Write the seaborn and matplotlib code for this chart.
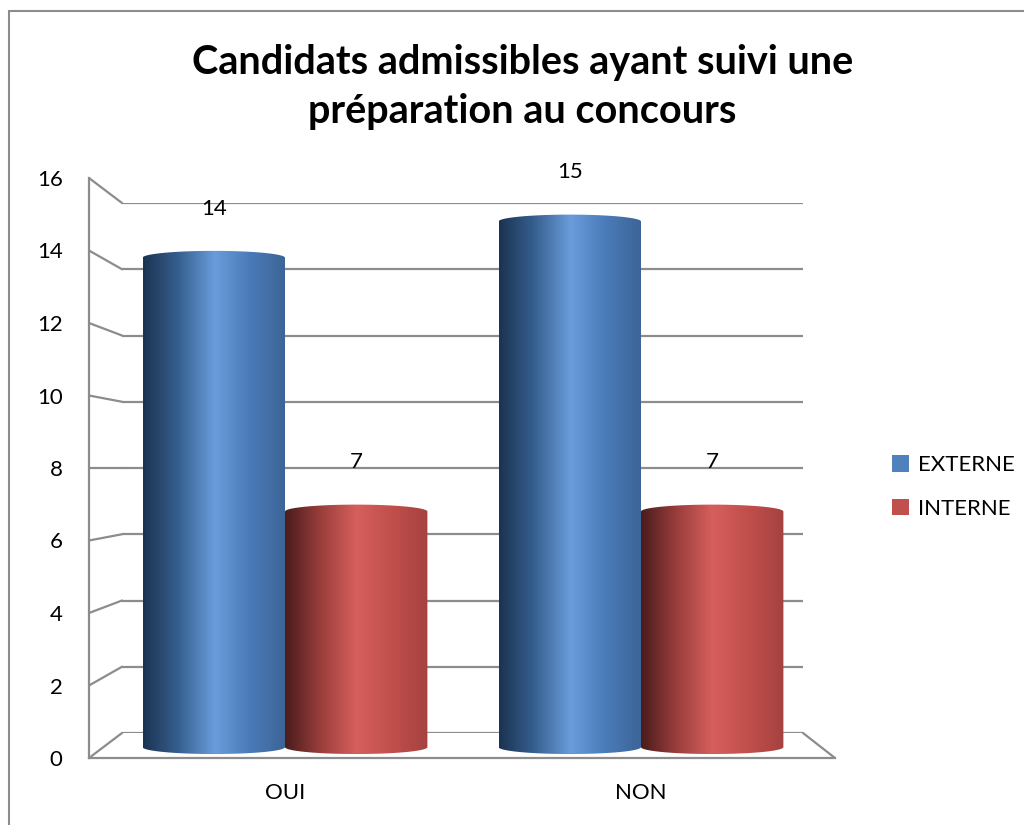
import matplotlib
matplotlib.use("Agg")

import matplotlib.pyplot as plt
import numpy as np
import pandas as pd
import seaborn as sns
from matplotlib.colors import LinearSegmentedColormap
from matplotlib.lines import Line2D
from matplotlib.patches import Patch, PathPatch
from matplotlib.path import Path


CATEGORIES = ["OUI", "NON"]
SERIES = ["EXTERNE", "INTERNE"]
EXTERNE = [14, 15]
INTERNE = [7, 7]
Y_TICKS = [0, 2, 4, 6, 8, 10, 12, 14, 16]
TITLE = "Candidats admissibles ayant suivi une\npréparation au concours"

BLUE = "#4f81bd"
RED = "#c0504d"
GREY = "#8c8c8c"
GRADIENTS = {
    BLUE: ["#1c3352", "#36608f", "#6a9cdb", "#4a7bb8", "#3c6496"],
    RED: ["#4a1c1c", "#9a3e3c", "#d65f5c", "#c04f4c", "#a54240"],
}


def build_frame() -> pd.DataFrame:
    rows = []
    for name, values in zip(SERIES, [EXTERNE, INTERNE]):
        for category, value in zip(CATEGORIES, values):
            rows.append({"reponse": category, "type": name, "candidats": value})
    return pd.DataFrame(rows)


def cylinder_path(x0: float, width: float, bottom: float, top: float, sag: float) -> Path:
    # silhouette of a cylinder: arc on top, arc below
    theta = np.linspace(np.pi, 0, 40)
    cx = x0 + width / 2
    top_x = cx + np.cos(theta) * width / 2
    top_y = top + np.sin(theta) * sag
    bot_x = cx + np.cos(theta[::-1]) * width / 2
    bot_y = bottom - np.sin(theta[::-1]) * sag
    verts = np.column_stack([np.concatenate([top_x, bot_x]), np.concatenate([top_y, bot_y])])
    verts = np.vstack([verts, verts[:1]])
    codes = [Path.MOVETO] + [Path.LINETO] * (len(verts) - 2) + [Path.CLOSEPOLY]
    return Path(verts, codes)


def main() -> None:
    sns.set_theme(style="white")
    plt.rcParams["font.family"] = ["Lato", "DejaVu Sans"]
    plt.rcParams["text.color"] = "black"

    fig = plt.figure(figsize=(10.24, 8.25), dpi=100)
    ax_back = fig.add_axes([122 / 1024, 92 / 825, 681 / 1024, 530 / 825])
    ax = fig.add_axes([89 / 1024, 67 / 825, 746 / 1024, 580 / 825])
    ax.set_facecolor("none")

    # back wall
    ax_back.set_ylim(0, 16)
    ax_back.set_yticks(Y_TICKS)
    ax_back.yaxis.grid(True, color=GREY, linewidth=1.6)
    ax_back.tick_params(length=0, labelleft=False, labelbottom=False)
    ax_back.set_xticks([])
    for spine in ax_back.spines.values():
        spine.set_visible(False)

    df = build_frame()
    sns.barplot(
        data=df, x="reponse", y="candidats", hue="type", hue_order=SERIES,
        palette=[BLUE, RED], width=0.8, saturation=1, legend=False, ax=ax,
    )

    x_lim = (-0.5506, 1.545)
    sag = 0.19
    for container, color in zip(ax.containers, [BLUE, RED]):
        cmap = LinearSegmentedColormap.from_list("cyl", GRADIENTS[color])
        grad = np.linspace(0, 1, 256).reshape(1, -1)
        for bar in container:
            x0, w, h = bar.get_x(), bar.get_width(), bar.get_height()
            bar.set_alpha(0)
            path = cylinder_path(x0, w, 0.3, h - 0.2, sag)
            clip = PathPatch(path, transform=ax.transData, facecolor="none", edgecolor="none")
            ax.add_patch(clip)
            im = ax.imshow(grad, extent=[x0, x0 + w, 0, h + 0.2], aspect="auto",
                           cmap=cmap, zorder=3, interpolation="bilinear")
            im.set_clip_path(clip)
        ax.bar_label(container, padding=23, fontsize=16, color="black")

    ax.set_xlim(*x_lim)
    ax.set_ylim(0, 16)
    ax.set_yticks(Y_TICKS)
    ax.set_xlabel("")
    ax.set_ylabel("")
    ax.tick_params(axis="y", length=0, pad=19, labelsize=16, labelcolor="black")
    ax.tick_params(axis="x", length=0, pad=18, labelsize=16, labelcolor="black")
    for side in ["top", "right"]:
        ax.spines[side].set_visible(False)
    for side in ["left", "bottom"]:
        ax.spines[side].set_color(GREY)
        ax.spines[side].set_linewidth(1.6)

    # perspective connectors between front axis and back wall
    fig.canvas.draw()
    to_fig = fig.transFigure.inverted()
    for v in Y_TICKS:
        front = to_fig.transform(ax.transData.transform((x_lim[0], v)))
        back = to_fig.transform(ax_back.transData.transform((ax_back.get_xlim()[0], v)))
        fig.add_artist(Line2D([front[0], back[0]], [front[1], back[1]], color=GREY, linewidth=1.6))
    front = to_fig.transform(ax.transData.transform((x_lim[1], 0)))
    back = to_fig.transform(ax_back.transData.transform((ax_back.get_xlim()[1], 0)))
    fig.add_artist(Line2D([front[0], back[0]], [front[1], back[1]], color=GREY, linewidth=1.6))

    # chart border
    fig.add_artist(Line2D([8.5 / 1024, 8.5 / 1024], [0, 1 - 11 / 825], color=GREY, linewidth=1.5))
    fig.add_artist(Line2D([8.5 / 1024, 1], [1 - 11 / 825, 1 - 11 / 825], color=GREY, linewidth=1.5))

    fig.text(0.51, 1 - 87 / 825, TITLE, ha="center", va="center", fontsize=28.5,
             fontweight="bold", linespacing=1.38, color="black")

    handles = [Patch(facecolor=c, edgecolor="none") for c in [BLUE, RED]]
    fig.legend(handles, SERIES, loc="center left", bbox_to_anchor=(872 / 1024, 1 - 487 / 825),
               frameon=False, fontsize=16, handlelength=0.75, handleheight=0.75,
               handletextpad=0.4, labelspacing=1.05, labelcolor="black")

    fig.savefig("out.png", dpi=100)
    plt.close(fig)


if __name__ == "__main__":
    main()
